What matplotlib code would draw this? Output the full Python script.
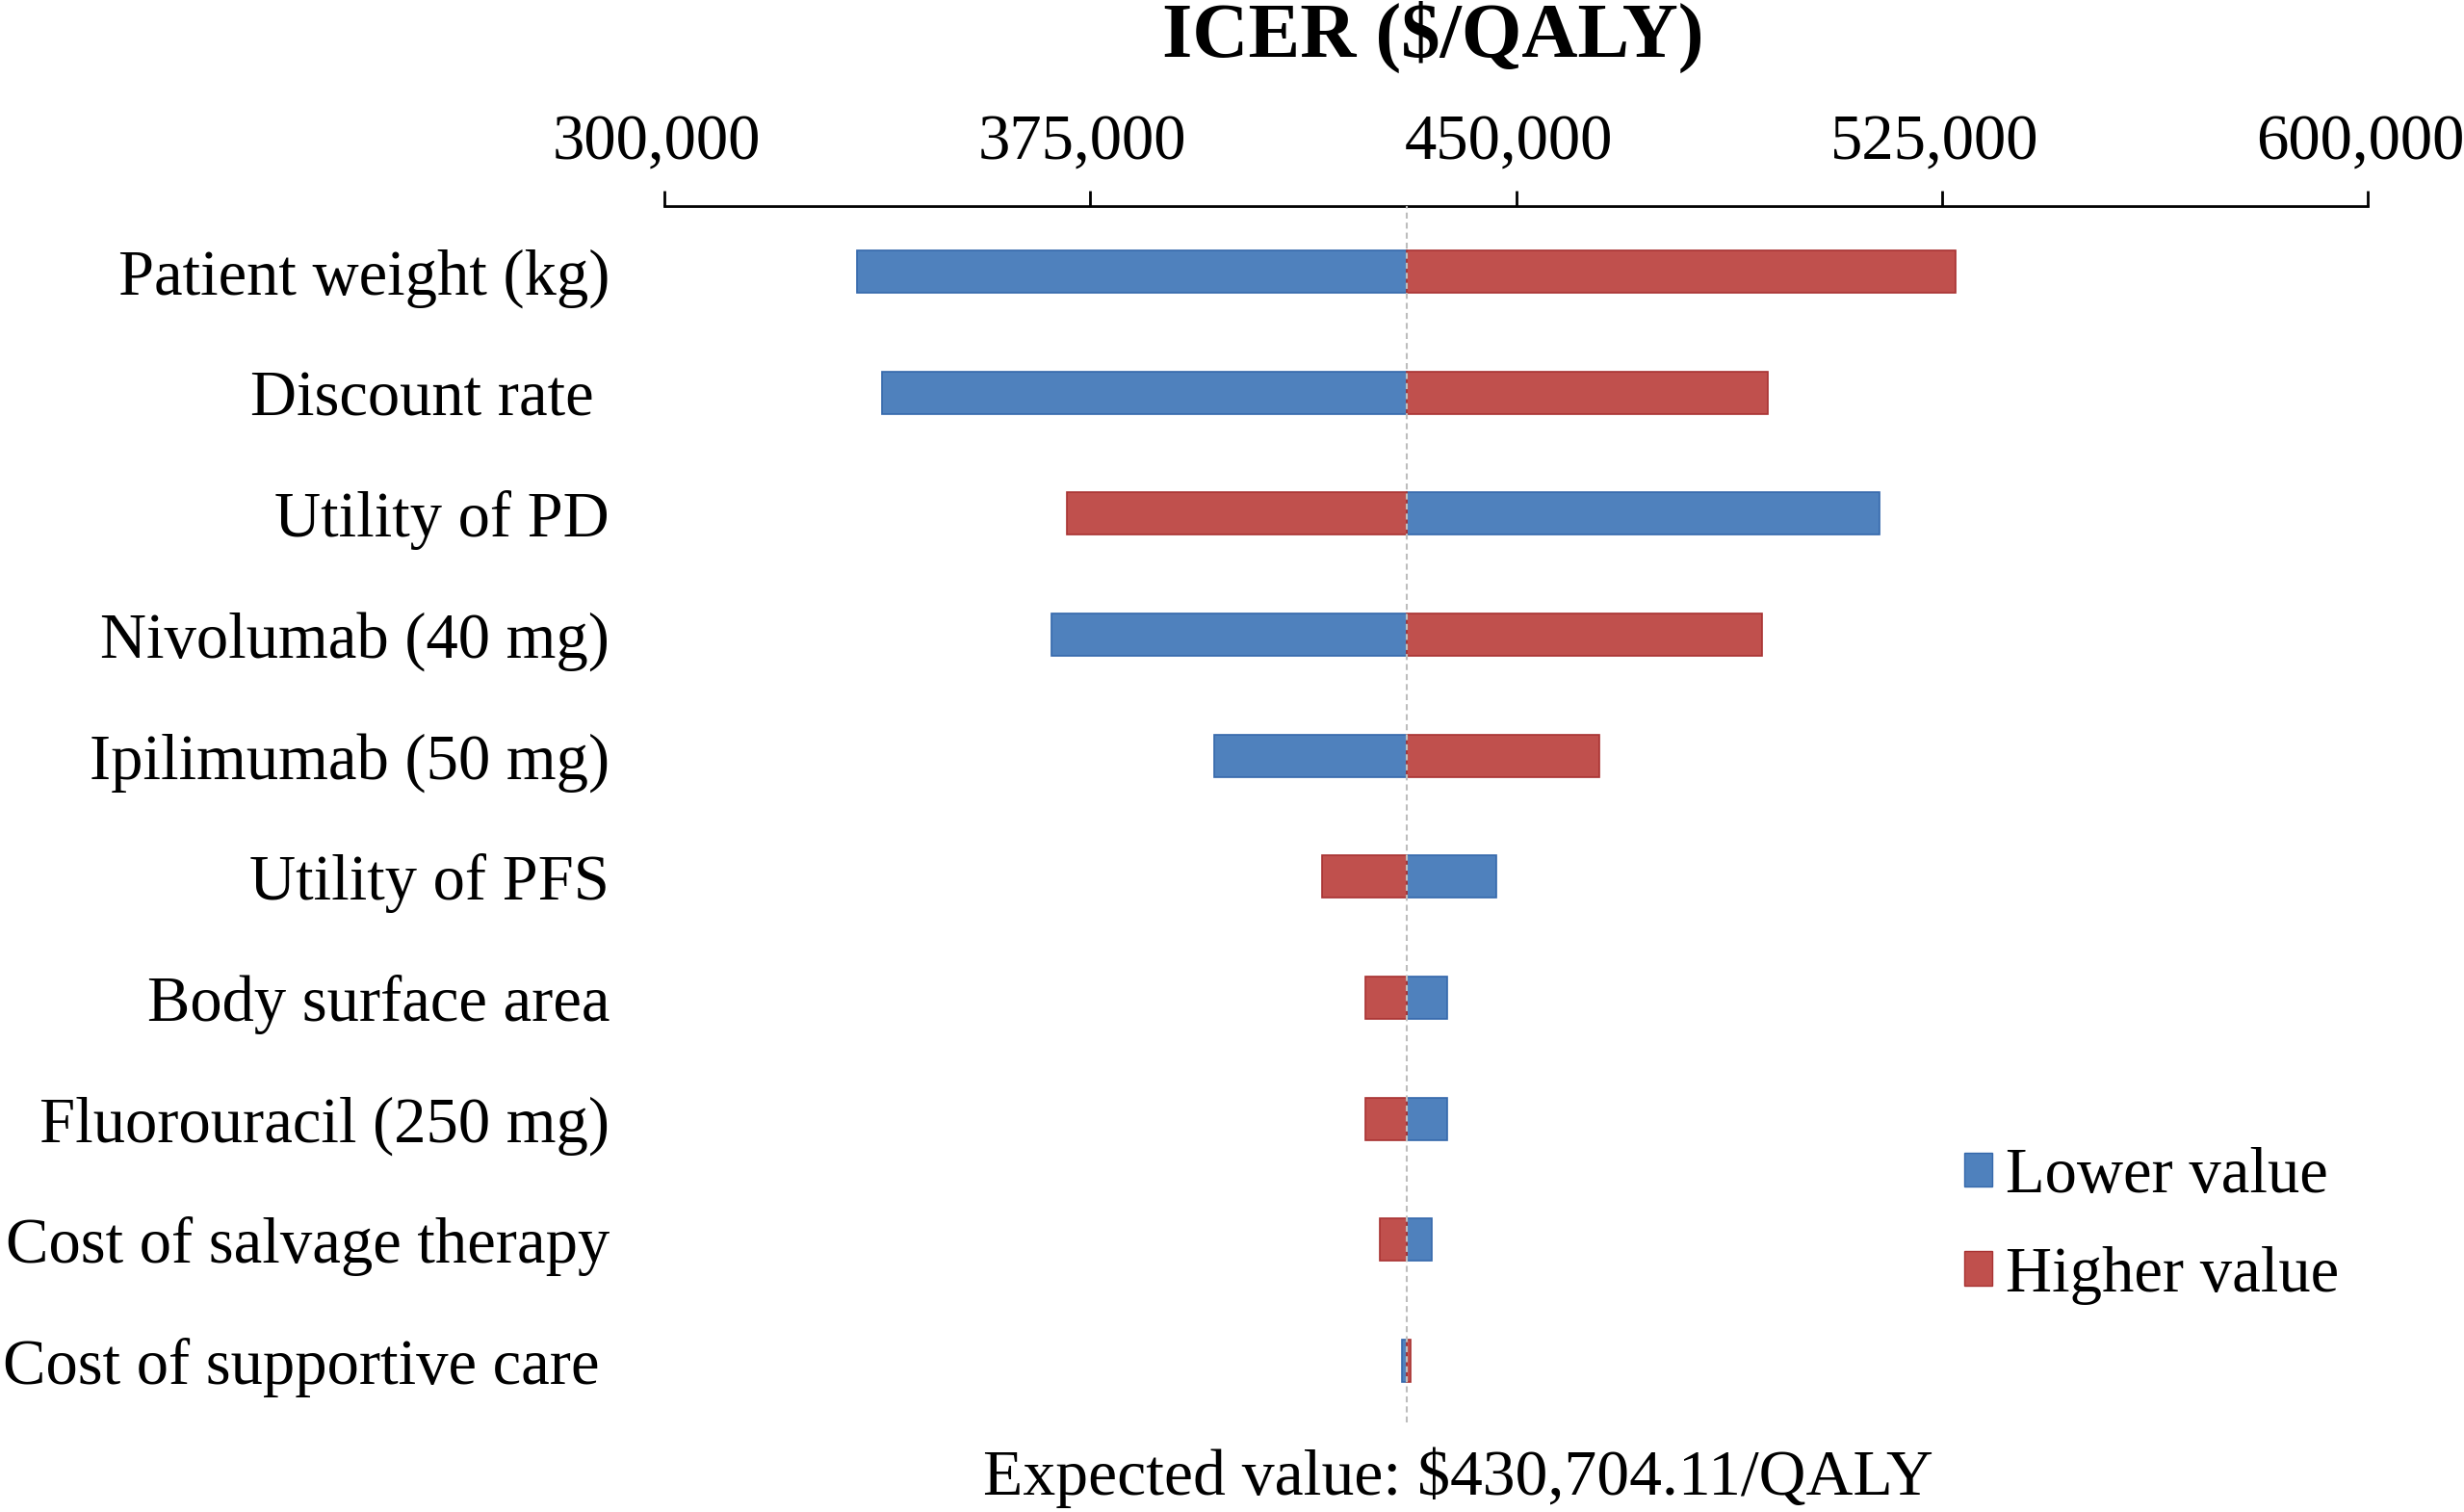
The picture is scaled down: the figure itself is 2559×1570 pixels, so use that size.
import matplotlib
matplotlib.use("Agg")
import matplotlib.pyplot as plt
from matplotlib.patches import Patch
from matplotlib.ticker import FuncFormatter
from matplotlib.transforms import ScaledTranslation

categories = ["Patient weight (kg)", "Discount rate ", "Utility of PD", "Nivolumab (40 mg)",
              "Ipilimumab (50 mg)", "Utility of PFS", "Body surface area",
              "Fluorouracil (250 mg)", "Cost of salvage therapy", "Cost of supportive care"]
base_value = 430704.11
lower_icer = [334000, 338400, 514000, 368100, 396800, 446600, 437900, 437900, 435100, 429900]
higher_icer = [527400, 494400, 370900, 493400, 464600, 415800, 423400, 423400, 426000, 431400]
x_ticks = [300000, 375000, 450000, 525000, 600000]

plt.rcParams['font.family'] = ['Liberation Serif', 'DejaVu Serif']
FS = 48

W, H = 2559, 1570
fig = plt.figure(figsize=(W / 100, H / 100), dpi=100)
ax = fig.add_axes([690 / W, 1 - 1477 / H, (2459 - 690) / W, (1477 - 214) / H])

blue = '#4F81BD'
red = '#C0504D'
ys = list(range(len(categories)))
ax.barh(ys, [v - base_value for v in lower_icer], left=base_value, height=0.35,
        color=blue, edgecolor='#3568AC', linewidth=1.2, zorder=2)
ax.barh(ys, [v - base_value for v in higher_icer], left=base_value, height=0.35,
        color=red, edgecolor='#A83232', linewidth=1.2, zorder=2)
ax.axvline(base_value, color='#BDBDBD', linewidth=1.5, linestyle=(0, (3, 2)), zorder=3)

ax.set_xlim(300000, 600000)
ax.set_ylim(9.51, -0.54)
ax.set_xticks(x_ticks)
ax.xaxis.set_major_formatter(FuncFormatter(lambda v, p: f"{int(v):,}"))
ax.xaxis.tick_top()
ax.tick_params(axis='x', direction='out', length=11.5, width=2, pad=14, labelsize=FS, color='black')
shift = ScaledTranslation(-8 / 100, 0, fig.dpi_scale_trans)
for lab in ax.get_xticklabels():
    lab.set_transform(lab.get_transform() + shift)
ax.set_yticks(ys)
ax.set_yticklabels(categories)
ax.tick_params(axis='y', length=0, pad=41, labelsize=FS)
ylabs = ax.get_yticklabels()
ylabs[-1].set_transform(ylabs[-1].get_transform() + ScaledTranslation(-11 / 100, 0, fig.dpi_scale_trans))
for s in ['bottom', 'left', 'right']:
    ax.spines[s].set_visible(False)
ax.spines['top'].set_linewidth(2)

fig.text(1488 / W, 1 - 59 / H, "ICER ($/QALY)", fontsize=58, fontweight='bold',
         ha='center', va='baseline')
fig.text(1514 / W, 1 - 1534 / H, "Expected value: $430,704.11/QALY", fontsize=48.7,
         ha='center', va='center')

handles = [Patch(facecolor=blue, edgecolor='#3568AC', label='Lower value'),
           Patch(facecolor=red, edgecolor='#A83232', label='Higher value')]
fig.legend(handles=handles, loc='center left', bbox_to_anchor=(2040 / W, 1 - 1273 / H),
           frameon=False, fontsize=FS, handlelength=0.44, handleheight=0.44,
           handletextpad=0.2, labelspacing=0.62, borderpad=0, borderaxespad=0)

fig.savefig('out.png', dpi=100, facecolor='white')
